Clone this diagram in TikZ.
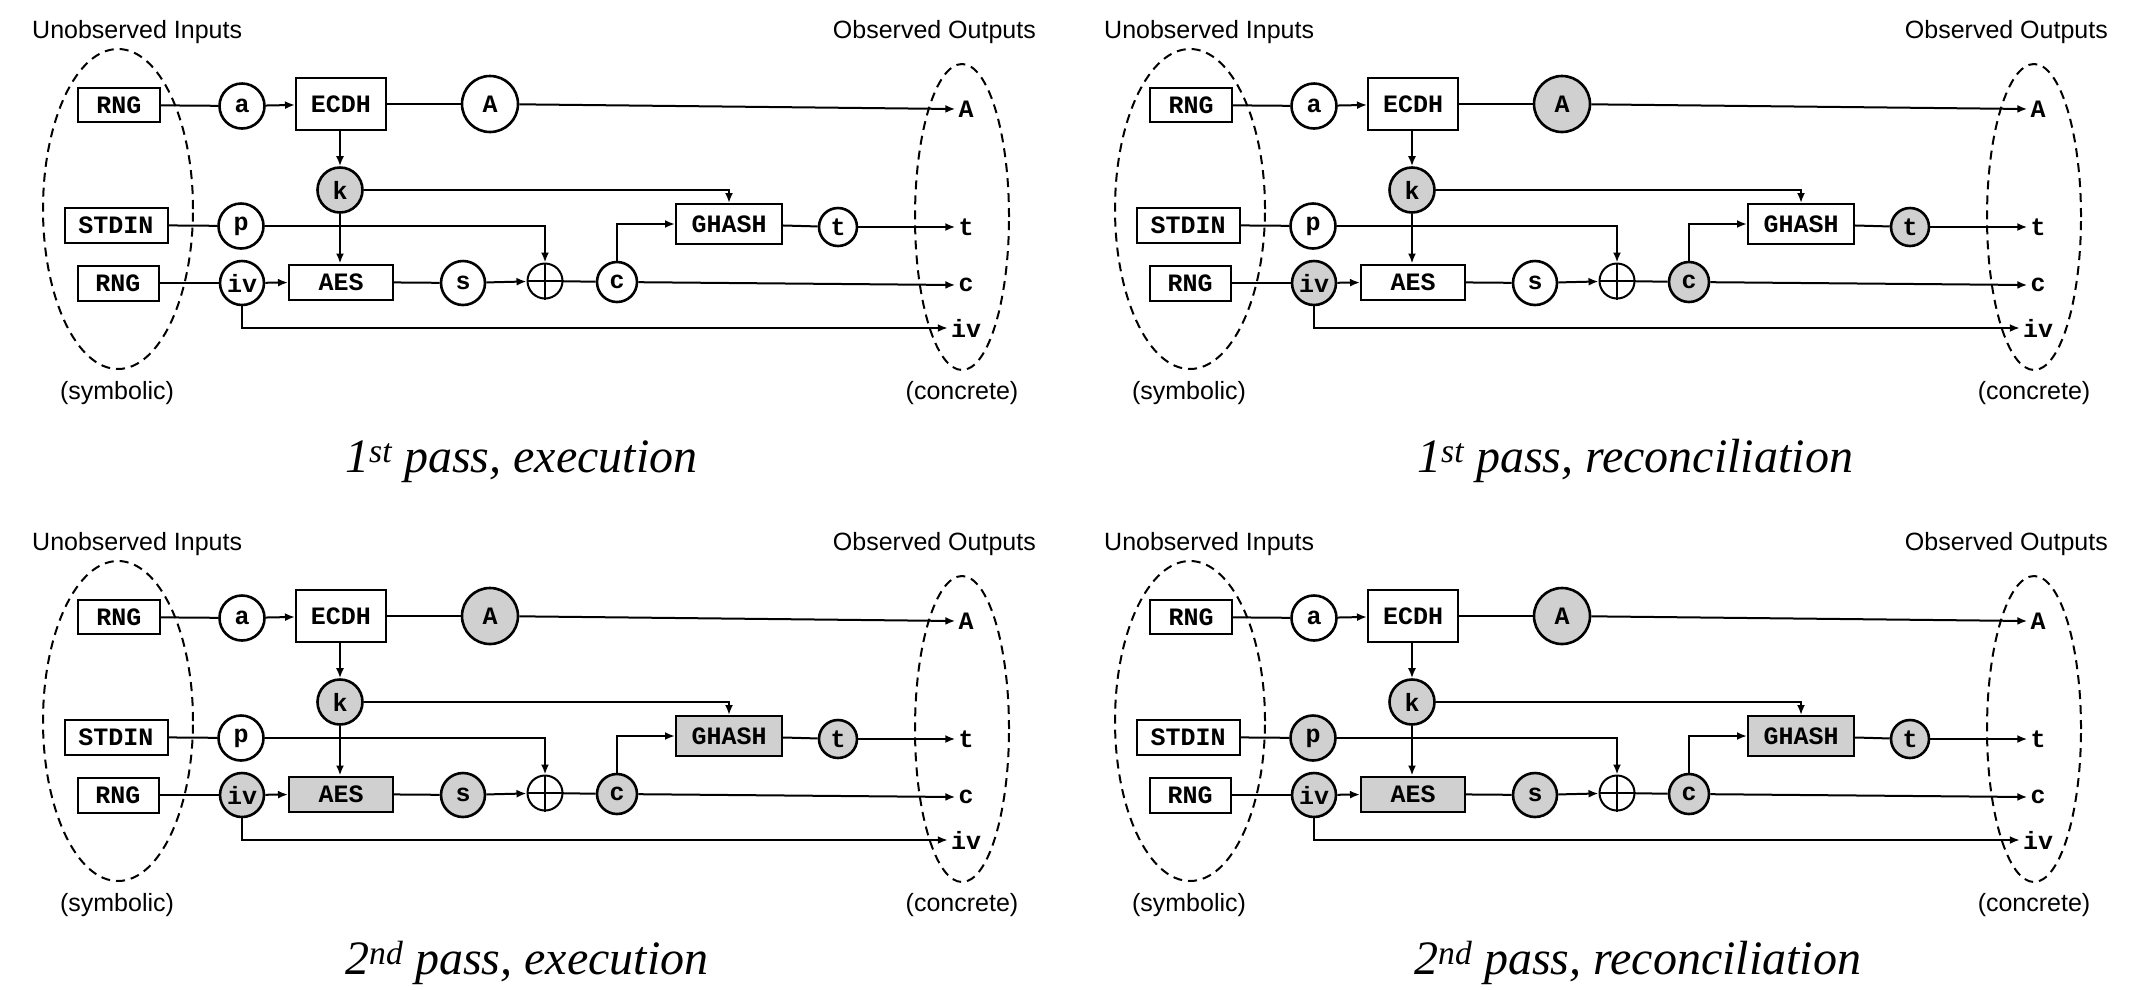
\documentclass[tikz,border=0pt]{standalone}
\usepackage{fontspec}
\usetikzlibrary{arrows.meta,calc}
\newfontfamily\monofam{Liberation Mono}
\newfontfamily\sansfam{Liberation Sans}
\newfontfamily\titlefam{Liberation Serif}
\definecolor{shade}{RGB}{208,208,208}
\newcommand\nf{\monofam\bfseries\fontsize{25pt}{25pt}\selectfont}
\newcommand\lblfont{\sansfam\fontsize{25pt}{25pt}\selectfont}
\newcommand\ttlfont{\titlefam\itshape\fontsize{48pt}{48pt}\selectfont}
\newcommand\panelbody[1]{%
  % dashed ellipses
  \draw[ell] (118,209) ellipse [x radius=75pt, y radius=160pt];
  \draw[ell] (962,217) ellipse [x radius=47pt, y radius=153pt];
  \node[lbl, anchor=west] (#1ui) at (32,32) {Unobserved Inputs};
  \node[lbl, anchor=east] (#1oo) at (1036,32) {Observed Outputs};
  \node[lbl] (#1sym) at (117,393) {(symbolic)};
  \node[lbl] (#1con) at (962,393) {(concrete)};
  % nodes
  \node[box, minimum width=82pt, minimum height=34pt] (#1rngA) at (119,105) {RNG};
  \node[box, minimum width=103pt] (#1stdin) at (116,225) {STDIN};
  \node[box, minimum width=81pt] (#1rngB) at (118,283) {RNG};
  \node[circ, fa] (#1na) at (242,106) {a};
  \node[box, minimum width=90pt, minimum height=52pt] (#1ecdh) at (341,104) {ECDH};
  \node[circ, minimum size=56pt, fbA] (#1nA) at (490,104) {A};
  \node[circ, fk] (#1nk) at (340,190) {k};
  \node[circ, fp] (#1np) at (241,226) {p};
  \node[circ, minimum size=44pt, fiv] (#1niv) at (242,283) {iv};
  \node[box, minimum width=104pt, faes] (#1aes) at (341,282) {AES};
  \node[circ, minimum size=44pt, fs] (#1ns) at (463,283) {s};
  \node[xorc] (#1x) at (545,281) {};
  \draw[line width=2pt] (#1x.north) -- (#1x.south) (#1x.west) -- (#1x.east);
  \node[circ, minimum size=40pt, fc] (#1nc) at (617,282) {c};
  \node[box, minimum width=106pt, minimum height=40pt, fgh] (#1gh) at (729,224) {GHASH};
  \node[circ, minimum size=38pt, ft] (#1nt) at (838,227) {t};
  \node[outl] (#1oA) at (966,109) {A};
  \node[outl] (#1ot) at (966,227) {t};
  \node[outl] (#1oc) at (966,285) {c};
  \node[outl] (#1oiv) at (966,328) {iv};
  % connectors
  \draw[conn] (#1rngA) -- (#1na);
  \draw[arr] (#1na) -- (#1ecdh);
  \draw[conn] (#1ecdh) -- (#1nA);
  \draw[arr] (#1nA) -- (#1oA.west);
  \draw[arr] (#1ecdh.south -| #1nk.north) -- (#1nk.north);
  \draw[arr] (#1nk.south) -- (#1nk.south |- #1aes.north);
  \draw[arr] (#1nk.east) -| (#1gh.north);
  \draw[conn] (#1stdin) -- (#1np);
  \draw[arr] (#1np.east) -| (#1x.north);
  \draw[conn] (#1rngB) -- (#1niv);
  \draw[arr] (#1niv) -- (#1aes);
  \draw[conn] (#1aes) -- (#1ns);
  \draw[arr] (#1ns) -- (#1x);
  \draw[conn] (#1x) -- (#1nc);
  \draw[arr] (#1nc.north) |- (#1gh.west);
  \draw[conn] (#1gh) -- (#1nt);
  \draw[arr] (#1nt) -- (#1ot.west);
  \draw[arr] (#1nc) -- (#1oc.west);
  \draw[arr] (#1niv.south) |- (#1oiv.west);
}
\begin{document}
\begin{tikzpicture}[x=1pt,y=-1pt,
  box/.style={draw, line width=2pt, fill=white, font=\nf, inner sep=0pt, minimum height=35pt},
  circ/.style={circle, draw, line width=2.6pt, fill=white, font=\nf, inner sep=0pt, minimum size=45pt},
  xorc/.style={circle, draw, line width=2pt, fill=white, inner sep=0pt, minimum size=35pt},
  outl/.style={font=\nf, inner sep=3pt},
  lbl/.style={font=\lblfont, inner sep=0pt},
  ttl/.style={font=\ttlfont, inner sep=0pt, anchor=base west},
  ell/.style={draw, line width=2pt, dash pattern=on 9pt off 6pt},
  conn/.style={line width=2pt},
  arr/.style={conn, -{Latex[length=10pt,width=8pt]}},
  g/.style={fill=shade},
  fa/.style={}, fbA/.style={}, fk/.style={g}, fp/.style={}, fiv/.style={},
  faes/.style={}, fs/.style={}, fc/.style={}, fgh/.style={}, ft/.style={}]
\useasboundingbox[fill=white] (0,0) rectangle (2133,989);
\begin{scope}
  \panelbody{tl}
\end{scope}
\begin{scope}[shift={(1072,0)}, fbA/.style={g}, fiv/.style={g}, fc/.style={g}, ft/.style={g}]
  \panelbody{tr}
\end{scope}
\begin{scope}[shift={(0,512)}, fbA/.style={g}, fiv/.style={g}, faes/.style={g}, fs/.style={g}, fc/.style={g}, fgh/.style={g}, ft/.style={g}]
  \panelbody{bl}
\end{scope}
\begin{scope}[shift={(1072,512)}, fbA/.style={g}, fp/.style={g}, fiv/.style={g}, faes/.style={g}, fs/.style={g}, fc/.style={g}, fgh/.style={g}, ft/.style={g}]
  \panelbody{br}
\end{scope}
\node[ttl] (t1) at (345,472) {1\textsuperscript{st} pass, execution};
\node[ttl] (t2) at (1417,472) {1\textsuperscript{st} pass, reconciliation};
\node[ttl] (t3) at (345,974) {2\textsuperscript{nd} pass, execution};
\node[ttl] (t4) at (1414,974) {2\textsuperscript{nd} pass, reconciliation};
\end{tikzpicture}
\end{document}
